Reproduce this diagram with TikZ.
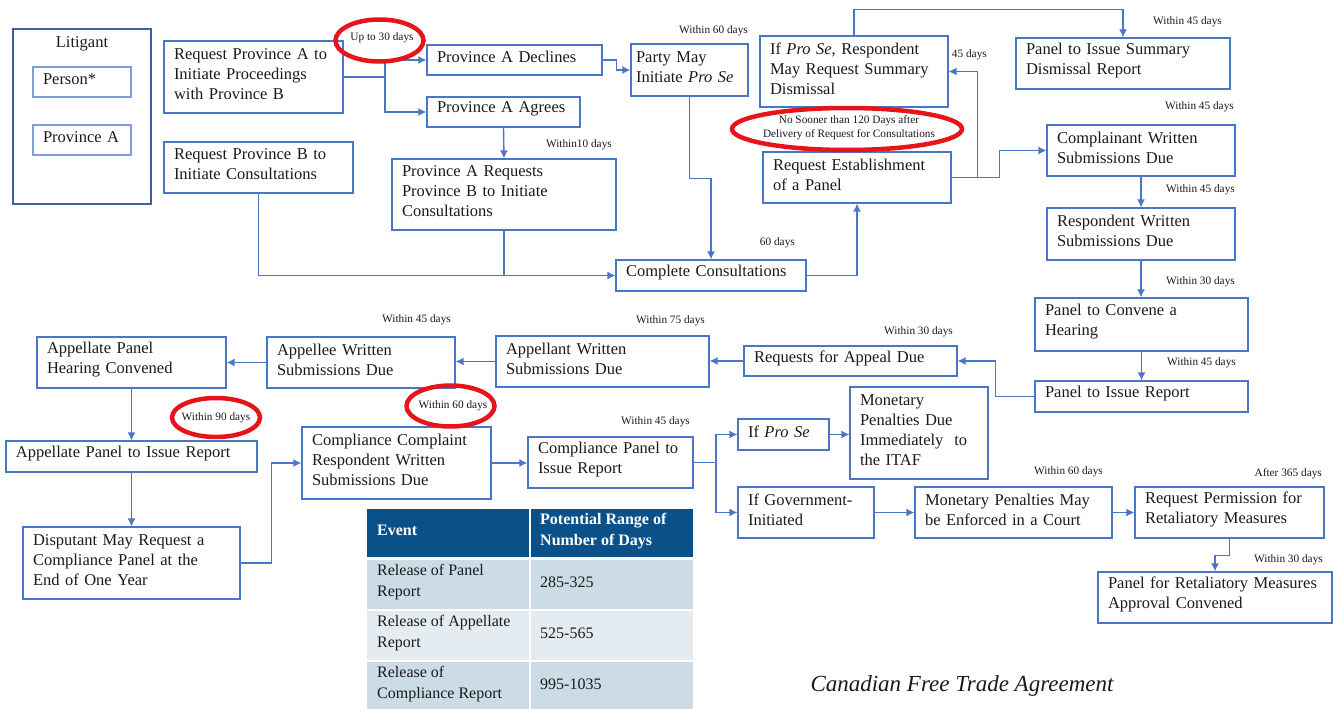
\documentclass[tikz,border=0pt]{standalone}
\usepackage{fontspec}
\setmainfont{Liberation Serif}
\usetikzlibrary{arrows.meta,calc}
\definecolor{bxblue}{HTML}{4A76C6}
\definecolor{litblue}{HTML}{3D5FA3}
\definecolor{inblue}{HTML}{7E9EDA}
\definecolor{hdrblue}{HTML}{0B5189}
\definecolor{rowa}{HTML}{CCDCE6}
\definecolor{rowb}{HTML}{E4ECF2}
\definecolor{ovalred}{HTML}{E8141C}
\definecolor{txt}{HTML}{1A1A1A}
\tikzset{
  box/.style={draw=bxblue, line width=1.2pt, rectangle, align=left, inner xsep=10pt, inner ysep=1pt,
    text=txt, font=\fontsize{16.5}{20}\selectfont, execute at end node={\par\vspace{6pt}}},
  lbl/.style={inner sep=0pt, text=txt, font=\fontsize{11.3}{14}\selectfont},
  arr/.style={draw=bxblue, line width=1.4pt, -{Latex[length=8pt,width=8pt]}},
  ln/.style={draw=bxblue, line width=1.4pt},
  oval/.style={draw=ovalred, line width=4.5pt},
  celltxt/.style={inner sep=0pt, anchor=west, align=left, text=txt, font=\fontsize{16}{21}\selectfont},
}
\newcommand\bx[7][]{%
  \pgfmathsetmacro\bw{#5-#3}\pgfmathsetmacro\bh{#6-#4}\pgfmathsetmacro\tw{#5-#3-20}%
  \node[box, minimum width=\bw pt, minimum height=\bh pt, text width=\tw pt, #1] (#2) at ({(#3+#5)/2},{(#4+#6)/2}) {#7};}
\begin{document}
\begin{tikzpicture}[x=1pt,y=-1pt]
\useasboundingbox (0,0) rectangle (1334,709);
% Litigant legend
\node[draw=litblue, line width=1.8pt, minimum width=138pt, minimum height=175pt, inner sep=0pt] (litigant) at (82,116.5) {};
\node[inner sep=0pt, text=txt, font=\fontsize{16.5}{20}\selectfont] (littitle) at (82,44) {Litigant};
\bx[draw=inblue]{person}{33}{67}{131}{97}{Person*}
\bx[draw=inblue]{provA}{33}{125}{131}{155}{Province A}
% Boxes
\bx{reqA}{164}{41}{343}{113}{Request Province A to\\Initiate Proceedings\\with Province B}
\bx{reqB}{164}{142}{353}{193}{Request Province B to\\Initiate Consultations}
\bx{declines}{427}{45}{602}{75}{Province A Declines}
\bx{agrees}{427}{97}{580}{127}{Province A Agrees}
\bx{arequests}{392}{159}{616}{230}{Province A Requests\\Province B to Initiate\\Consultations}
\bx[inner xsep=5pt, text width=107pt]{partymay}{631}{44}{748}{96}{Party May\\Initiate \textit{Pro Se}}
\bx{completecons}{616}{260}{806}{291}{Complete Consultations}
\bx{ifprose}{760}{36}{948}{107}{If \textit{Pro Se}, Respondent\\May Request Summary\\Dismissal}
\bx{panelsummary}{1016}{38}{1230}{89}{Panel to Issue Summary\\Dismissal Report}
\bx{reqpanel}{763}{152}{951}{203}{Request Establishment\\of a Panel}
\bx{complainant}{1047}{125}{1235}{176}{Complainant Written\\Submissions Due}
\bx{respondent}{1047}{208}{1235}{260}{Respondent Written\\Submissions Due}
\bx{convene}{1035}{298}{1248}{351}{Panel to Convene a\\Hearing}
\bx{panelreport}{1035}{381}{1248}{412}{Panel to Issue Report}
\bx{reqappeal}{744}{346}{957}{376}{Requests for Appeal Due}
\bx{appellant}{496}{336}{709}{387}{Appellant Written\\Submissions Due}
\bx{appellee}{267}{337}{455}{388}{Appellee Written\\Submissions Due}
\bx{hearing}{37}{337}{226}{388}{Appellate Panel\\Hearing Convened}
\bx{appreport}{6}{441}{257}{472}{Appellate Panel to Issue Report}
\bx{disputant}{23}{527}{240}{599}{Disputant May Request a\\Compliance Panel at the\\End of One Year}
\bx{ccomplaint}{302}{427}{491}{499}{Compliance Complaint\\Respondent Written\\Submissions Due}
\bx{cpanel}{528}{437}{693}{488}{Compliance Panel to\\Issue Report}
\bx{ifprose2}{738}{419}{829}{450}{If \textit{Pro Se}}
\bx{itaf}{850}{387}{988}{479}{Monetary\\Penalties Due\\Immediately\ \ to\\the ITAF}
\bx{ifgov}{738}{487}{874}{538}{If Government-\\Initiated}
\bx{monmay}{915}{487}{1112}{538}{Monetary Penalties May\\be Enforced in a Court}
\bx{reqperm}{1135}{487}{1324}{538}{Request Permission for\\Retaliatory Measures}
\bx{panelret}{1098}{572}{1332}{623}{Panel for Retaliatory Measures\\Approval Convened}
% Connectors
\coordinate (j1) at (385,77);
\draw[ln] (reqA.east) -- (j1);
\draw[arr] (j1) |- (declines.west);
\draw[arr] (j1) |- (agrees.west);
\draw[arr] (declines.east) -- ++(14,0) |- (partymay.west);
\draw[arr] (agrees.south) -- (arequests.north);
\draw[arr] (partymay.south) -- ++(0,82) -| (completecons.north);
\draw[arr] (reqB.south) |- (completecons.west);
\draw[ln] (arequests.south) -- (arequests.south |- completecons.west);
\draw[arr] (completecons.east) -| (reqpanel.south);
\draw[arr] (reqpanel.east) -- ++(48,0) |- (complainant.west);
\draw[arr] (reqpanel.east) -- ++(26,0) |- (ifprose.east);
\draw[arr] (ifprose.north) -- ++(0,-26) -| (panelsummary.north);
\draw[arr] (complainant.south) -- (respondent.north);
\draw[arr] (respondent.south) -- (respondent.south |- convene.north);
\draw[arr] (convene.south) -- (panelreport.north);
\draw[arr] (panelreport.west) -- ++(-39,0) |- (reqappeal.east);
\draw[arr] (reqappeal.west) -- (reqappeal.west -| appellant.east);
\draw[arr] (appellant.west) -- (appellant.west -| appellee.east);
\draw[arr] (appellee.west) -- (appellee.west -| hearing.east);
\draw[arr] (hearing.south) -- (appreport.north);
\draw[arr] (appreport.south) -- (disputant.north);
\draw[arr] (disputant.east) -- ++(31,0) |- (ccomplaint.west);
\draw[arr] (ccomplaint.east) -- (ccomplaint.east -| cpanel.west);
\coordinate (j2) at (716,462.5);
\draw[ln] (cpanel.east) -- (j2);
\draw[arr] (j2) |- (ifprose2.west);
\draw[arr] (j2) |- (ifgov.west);
\draw[arr] (ifprose2.east) -- (ifprose2.east -| itaf.west);
\draw[arr] (ifgov.east) -- (monmay.west);
\draw[arr] (monmay.east) -- (reqperm.west);
\draw[arr] (reqperm.south) -- ++(0,17) -| (panelret.north);
% Red ovals
\draw[oval] (379.5,40.5) ellipse [x radius=44pt, y radius=21pt];
\draw[oval] (847,129) ellipse [x radius=115pt, y radius=21pt];
\draw[oval] (216,417.5) ellipse [x radius=44pt, y radius=19.5pt];
\draw[oval] (450.5,406) ellipse [x radius=44pt, y radius=20.5pt];
% Time labels
\node[lbl] (l30) at (382,38) {Up to 30 days};
\node[lbl, anchor=east] (l60a) at (748,31) {Within 60 days};
\node[lbl, anchor=east] (l10) at (612,145) {Within10 days};
\node[lbl, anchor=east] (l45a) at (1222,22) {Within 45 days};
\node[lbl, anchor=east] (l45b) at (987,55) {45 days};
\node[lbl, align=center, font=\fontsize{11.3}{14}\selectfont] (l120) at (849,128) {No Sooner than 120 Days after\\Delivery of Request for Consultations};
\node[lbl, anchor=east] (l60b) at (795,243) {60 days};
\node[lbl, anchor=east] (l45c) at (1234,107) {Within 45 days};
\node[lbl, anchor=east] (l45d) at (1235,190) {Within 45 days};
\node[lbl, anchor=east] (l30b) at (1235,282) {Within 30 days};
\node[lbl, anchor=east] (l45e) at (1236,363) {Within 45 days};
\node[lbl, anchor=east] (l30c) at (953,332) {Within 30 days};
\node[lbl, anchor=east] (l75) at (705,321) {Within 75 days};
\node[lbl, anchor=east] (l45f) at (451,320) {Within 45 days};
\node[lbl] (l90) at (216,418) {Within 90 days};
\node[lbl] (l60c) at (453,406) {Within 60 days};
\node[lbl, anchor=east] (l45g) at (690,422) {Within 45 days};
\node[lbl, anchor=east] (l60d) at (1103,472) {Within 60 days};
\node[lbl, anchor=east] (l365) at (1322,474) {After 365 days};
\node[lbl, anchor=east] (l30d) at (1323,560) {Within 30 days};
% Table
\fill[hdrblue] (367,509) rectangle (529,557);
\fill[hdrblue] (531,509) rectangle (693,557);
\fill[rowa] (367,560) rectangle (529,609);
\fill[rowa] (531,560) rectangle (693,609);
\fill[rowb] (367,611) rectangle (529,660);
\fill[rowb] (531,611) rectangle (693,660);
\fill[rowa] (367,662) rectangle (529,709);
\fill[rowa] (531,662) rectangle (693,709);
\node[celltxt, text=white, font=\fontsize{16}{21}\selectfont\bfseries] (th1) at (377,530) {Event};
\node[celltxt, text=white, font=\fontsize{16}{21}\selectfont\bfseries] (th2) at (540,531) {Potential Range of\\Number of Days};
\node[celltxt] (r1a) at (377,582) {Release of Panel\\Report};
\node[celltxt] (r1b) at (540,582) {285-325};
\node[celltxt] (r2a) at (377,633) {Release of Appellate\\Report};
\node[celltxt] (r2b) at (540,633) {525-565};
\node[celltxt] (r3a) at (377,684) {Release of\\Compliance Report};
\node[celltxt] (r3b) at (540,684) {995-1035};
% Title
\node[inner sep=0pt, text=txt, font=\fontsize{23}{28}\selectfont\itshape] (title) at (962,686) {Canadian Free Trade Agreement};
\end{tikzpicture}
\end{document}
